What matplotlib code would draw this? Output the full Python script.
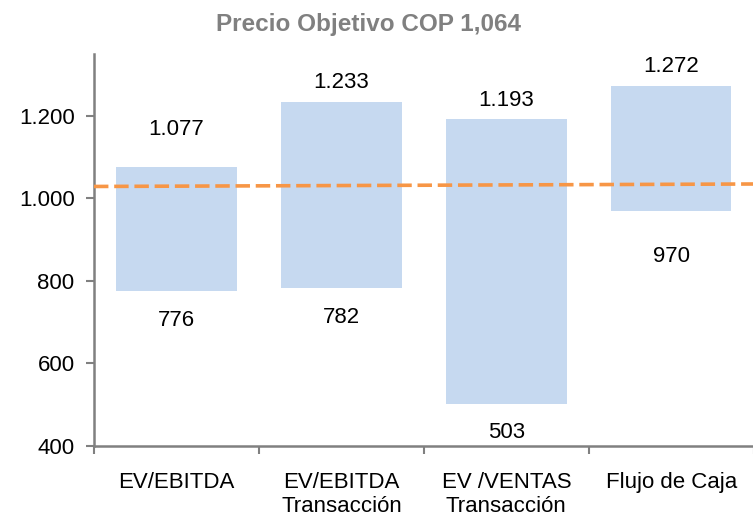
import matplotlib
matplotlib.use("Agg")
import matplotlib.pyplot as plt
from matplotlib.ticker import FuncFormatter

plt.rcParams["font.family"] = ["Liberation Sans", "DejaVu Sans"]

# Data
categories = ["EV/EBITDA", "EV/EBITDA\nTransacción", "EV /VENTAS\nTransacción", "Flujo de Caja"]
low_values = [776, 782, 503, 970]
high_values = [1077, 1233, 1193, 1272]
target_x = [-0.5, 3.5]
target_values = [1029, 1035]
y_ticks = [400, 600, 800, 1000, 1200]

# Label offsets in points (style only)
high_offsets = [27, 14, 13, 14]
low_offsets = [-21, -21, -21, -33]


def fmt_thousands(value, _pos=None):
    return f"{int(value):,}".replace(",", ".")


fig = plt.figure(figsize=(7.53, 5.28), dpi=100)
ax = fig.add_axes([0.1248, 0.1553, 0.8762, 0.7424])

x = range(len(categories))
heights = [h - l for h, l in zip(high_values, low_values)]
ax.bar(x, heights, bottom=low_values, width=0.73, color="#C6D9F0", zorder=2)
ax.plot(target_x, target_values, color="#F79646", linestyle=(0, (4, 1.6)), linewidth=2.6, zorder=3)

for i, (lo, hi) in enumerate(zip(low_values, high_values)):
    ax.annotate(fmt_thousands(hi), (i, hi), xytext=(0, high_offsets[i]), textcoords="offset points",
                ha="center", va="center", fontsize=16)
    ax.annotate(fmt_thousands(lo), (i, lo), xytext=(0, low_offsets[i]), textcoords="offset points",
                ha="center", va="center", fontsize=16)

ax.set_xlim(-0.5, 3.5)
ax.set_ylim(400, 1350)
ax.set_yticks(y_ticks)
ax.yaxis.set_major_formatter(FuncFormatter(fmt_thousands))

ax.set_xticks([-0.5, 0.5, 1.5, 2.5, 3.5])
ax.set_xticklabels([])
ax.set_xticks(list(x), minor=True)
ax.set_xticklabels(categories, minor=True, fontsize=16, linespacing=1.15)
ax.tick_params(axis="x", which="minor", length=0, pad=19)
ax.tick_params(axis="x", which="major", length=6, width=1.5, color="#808080")
ax.tick_params(axis="y", length=6, width=1.5, color="#808080", labelsize=16, pad=8)

for side in ["top", "right"]:
    ax.spines[side].set_visible(False)
for side in ["left", "bottom"]:
    ax.spines[side].set_color("#808080")
    ax.spines[side].set_linewidth(1.8)

fig.text(0.49, 0.953, "Precio Objetivo COP 1,064", ha="center", va="center",
         fontsize=17.5, fontweight="bold", color="#808080",
         family=["Liberation Sans Narrow", "Liberation Sans", "DejaVu Sans"])

fig.savefig("out.png", dpi=100)
